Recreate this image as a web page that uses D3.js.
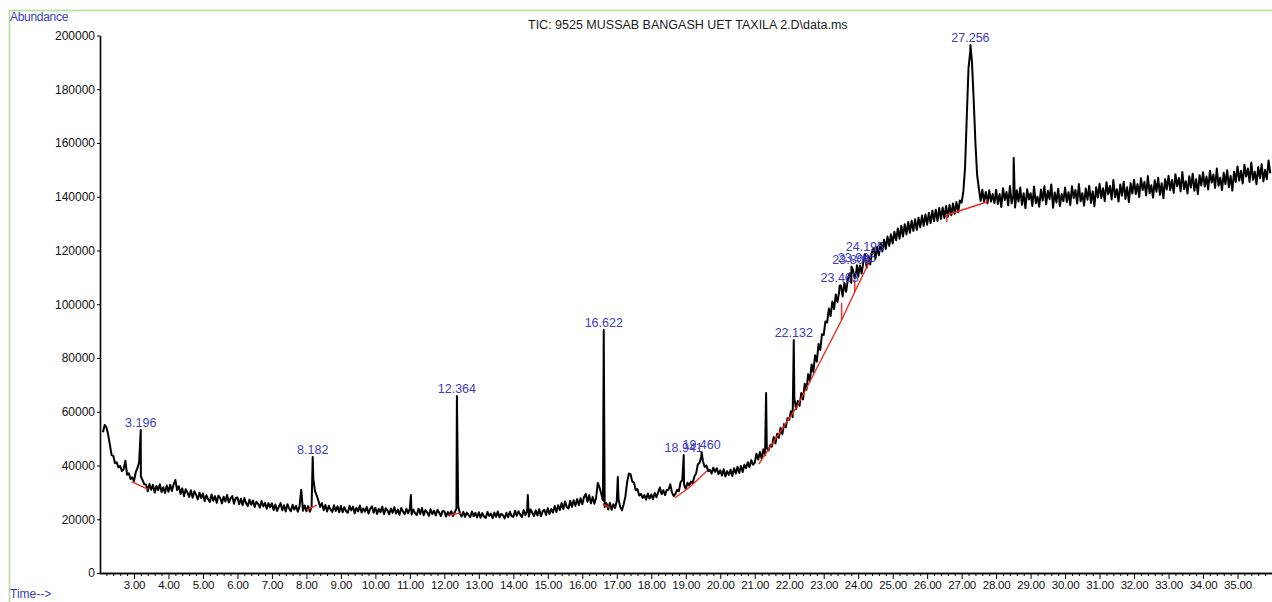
<!DOCTYPE html>
<html>
<head>
<meta charset="utf-8">
<script src="https://cdn.jsdelivr.net/npm/d3@7/dist/d3.min.js"></script>
<style>
  body { margin: 0; background: #ffffff; }
  text { font-family: "Liberation Sans", Arial, sans-serif; }
</style>
</head>
<body>
<svg id="chart"></svg>
<script>
/* ----------尺寸---------- */

var WIDTH = 1272,
    HEIGHT = 602;

/* ----------颜色---------- */

var traceColor = "#000000",
    baseColor = "#f02a1e",
    labelColor = "#3c3cbe",
    frameColor = "#b2dc98";

/* ----------数据 (abundance in thousands, one row per minute, 0.05 min per scan) ---------- */

var ticRows = [
  /* 2 */ [52.4, 55.1, 54.2, 51.6, 47.8, 43.9, 43.6, 40.8, 41.2, 39.3, 39.8, 37.9, 38.6, 41.8, 36.6, 37.1, 35.0, 35.6],
  /* 3 */ [34.2, 37.4, 39.0, 41.3, 36.0, 34.5, 33.0, 32.9, 30.4, 33.1, 31.0, 32.8, 29.9, 32.4, 30.8, 33.0, 30.1, 31.9, 29.8, 32.6],
  /* 4 */ [30.2, 32.8, 30.5, 33.0, 34.6, 30.9, 32.3, 29.4, 31.5, 28.6, 31.2, 29.9, 28.3, 30.8, 28.0, 30.4, 29.1, 27.4, 29.9, 27.9],
  /* 5 */ [29.6, 26.8, 28.9, 27.5, 26.4, 29.2, 26.9, 28.6, 26.1, 28.8, 27.9, 25.9, 28.4, 26.6, 29.0, 26.2, 27.8, 28.6, 25.8, 27.9],
  /* 6 */ [28.1, 25.6, 27.6, 25.2, 27.9, 26.0, 24.9, 27.3, 25.4, 27.0, 24.6, 26.5, 25.7, 24.3, 26.8, 24.8, 26.1, 23.9, 26.0, 24.4],
  /* 7 */ [25.9, 23.4, 25.5, 23.1, 24.6, 26.0, 23.3, 25.2, 22.9, 25.6, 24.0, 23.0, 25.4, 23.6, 25.0, 22.8, 24.7, 31.0, 23.2, 25.1],
  /* 8 */ [23.0, 24.9, 22.8, 24.6, 35.0, 30.5, 28.8, 26.8, 24.6, 26.0, 23.4, 25.3, 22.9, 25.0, 23.6, 22.7, 25.2, 23.1, 24.8, 22.6],
  /* 9 */ [24.9, 22.6, 24.5, 23.0, 22.4, 25.0, 23.3, 24.7, 22.2, 24.3, 22.9, 25.1, 22.5, 24.0, 22.8, 24.6, 22.1, 23.9, 24.8, 22.4],
  /* 10 */ [24.3, 22.0, 23.8, 22.6, 24.7, 21.9, 24.1, 23.3, 21.8, 24.0, 22.4, 24.5, 22.1, 23.6, 21.7, 24.2, 22.9, 21.9, 23.9, 22.2],
  /* 11 */ [24.0, 21.8, 23.6, 22.3, 21.6, 23.9, 22.0, 24.2, 21.5, 23.4, 22.6, 21.3, 23.7, 21.9, 23.2, 21.4, 23.5, 22.5, 21.2, 23.1],
  /* 12 */ [22.9, 21.0, 22.7, 21.4, 23.0, 21.2, 22.6, 23.9, 25.0, 22.2, 21.0, 22.8, 20.9, 22.5, 21.6, 20.8, 22.9, 21.1, 22.4, 20.7],
  /* 13 */ [22.6, 20.6, 22.3, 21.0, 20.5, 22.7, 21.3, 22.1, 20.4, 22.5, 20.9, 22.9, 20.7, 22.0, 21.5, 20.3, 22.4, 20.8, 22.8, 21.2],
  /* 14 */ [20.9, 23.2, 21.3, 23.0, 21.7, 20.8, 23.4, 21.5, 23.1, 21.0, 23.6, 22.4, 21.2, 23.3, 21.4, 23.7, 21.1, 22.9, 23.5, 21.6],
  /* 15 */ [24.1, 22.0, 23.8, 22.5, 24.9, 22.7, 25.2, 23.4, 26.0, 23.8, 26.6, 24.5, 24.0, 26.9, 24.6, 27.1, 25.0, 27.5, 25.3, 27.8],
  /* 16 */ [25.6, 28.3, 29.4, 26.5, 28.9, 25.9, 28.3, 25.8, 28.0, 33.5, 31.8, 29.5, 27.0, 24.6, 26.0, 23.6, 26.1, 23.5, 25.6, 24.2],
  /* 17 */ [26.8, 27.5, 24.6, 23.3, 25.6, 28.5, 33.8, 37.0, 36.8, 34.0, 33.6, 30.8, 31.2, 28.8, 29.4, 27.9, 29.0, 27.3, 29.6, 27.7],
  /* 18 */ [29.2, 27.5, 29.8, 28.2, 30.0, 31.8, 29.3, 30.8, 29.0, 30.9, 31.0, 33.0, 30.0, 28.6, 29.4, 30.9, 30.4, 33.8, 34.5, 33.0],
  /* 19 */ [31.2, 33.6, 32.6, 34.0, 33.4, 35.9, 37.0, 40.4, 41.0, 43.2, 41.5, 39.5, 40.0, 37.9, 38.4, 37.0, 39.2, 37.6, 39.0, 36.8],
  /* 20 */ [38.2, 36.3, 38.6, 35.9, 37.9, 36.5, 38.4, 36.1, 39.0, 37.0, 39.5, 37.2, 39.8, 37.6, 40.3, 39.0, 41.2, 39.4, 42.0, 40.3],
  /* 21 */ [41.0, 44.4, 42.2, 45.0, 42.6, 46.0, 43.8, 46.5, 45.6, 47.6, 47.0, 50.6, 48.2, 51.8, 50.3, 54.0, 51.6, 55.4, 54.2, 57.6],
  /* 22 */ [57.0, 60.2, 58.0, 65.0, 61.0, 64.0, 62.2, 67.0, 64.6, 70.4, 68.2, 74.0, 71.4, 77.6, 74.8, 81.0, 78.6, 85.2, 83.0, 88.8],
  /* 23 */ [88.6, 93.6, 93.2, 98.4, 95.6, 101.0, 98.2, 103.6, 100.8, 104.8, 107.0, 102.9, 108.0, 104.6, 109.2, 111.5, 108.0, 112.8, 109.6, 112.6],
  /* 24 */ [110.2, 114.4, 111.4, 115.8, 117.6, 113.6, 117.9, 114.8, 119.4, 121.0, 116.9, 121.4, 118.2, 122.8, 119.6, 124.0, 120.6, 125.2, 121.7, 126.0],
  /* 25 */ [122.6, 127.0, 123.8, 128.2, 124.4, 129.2, 125.2, 129.8, 126.0, 130.6, 126.6, 131.1, 127.3, 131.6, 127.7, 132.2, 128.6, 133.0, 129.2, 133.4],
  /* 26 */ [129.6, 134.0, 130.2, 134.8, 130.9, 135.2, 131.0, 135.8, 131.7, 136.0, 132.1, 136.6, 132.5, 137.0, 133.1, 137.5, 133.7, 138.0, 134.3, 138.6],
  /* 27 */ [137.8, 142.0, 151.0, 170.0, 188.0, 194.0, 190.0, 176.0, 160.0, 148.0, 143.0, 138.5, 142.6, 138.0, 141.8, 137.5, 142.4, 138.2, 141.0, 137.6],
  /* 28 */ [142.6, 137.3, 141.0, 136.2, 143.2, 138.8, 141.8, 136.8, 144.0, 137.6, 140.6, 136.0, 142.4, 138.2, 143.4, 137.0, 141.3, 135.8, 142.8, 139.0],
  /* 29 */ [141.3, 136.6, 143.8, 137.6, 140.0, 136.3, 142.7, 138.6, 143.9, 137.2, 142.2, 139.1, 144.6, 135.9, 141.6, 137.9, 143.0, 136.5, 141.0, 138.3],
  /* 30 */ [143.4, 138.0, 141.7, 136.9, 143.9, 139.5, 142.5, 137.5, 144.7, 138.3, 141.3, 136.7, 143.1, 138.9, 144.1, 137.7, 142.0, 136.5, 143.5, 139.7],
  /* 31 */ [144.8, 139.5, 143.2, 138.4, 145.4, 141.0, 144.0, 139.0, 146.2, 139.8, 142.8, 138.2, 144.6, 140.4, 145.6, 139.2, 143.5, 138.0, 145.0, 141.2],
  /* 32 */ [146.3, 141.0, 144.7, 139.9, 146.9, 142.5, 145.5, 140.5, 147.7, 141.3, 144.3, 139.7, 146.1, 141.9, 147.1, 140.7, 145.0, 139.5, 146.5, 142.7],
  /* 33 */ [147.8, 142.5, 146.2, 141.4, 148.4, 144.0, 147.0, 142.0, 149.2, 142.8, 145.8, 141.2, 147.6, 143.4, 148.6, 142.2, 146.5, 141.0, 148.0, 144.2],
  /* 34 */ [149.1, 143.8, 147.5, 142.7, 149.7, 145.3, 148.3, 143.3, 150.5, 144.1, 147.1, 142.5, 148.9, 144.7, 149.9, 143.5, 147.8, 142.3, 149.3, 145.5],
  /* 35 */ [151.3, 146.0, 149.7, 144.9, 151.9, 147.5, 150.5, 145.5, 152.7, 146.3, 149.3, 144.7, 151.1, 146.9, 152.1, 145.7, 150.0, 146.5, 153.5, 148.7]
];

/* ----------尖峰 (单个扫描的峰顶)---------- */

var spikeTimes  = [3.196, 8.182, 11.03, 12.364, 14.42, 16.622, 17.03, 18.941, 19.460, 21.33, 22.132, 23.463, 23.806, 23.965, 24.195, 27.256, 28.51];
var spikeValues = [53.2, 43.2, 29.0, 65.9, 29.0, 90.4, 35.7, 43.9, 45.0, 67.0, 86.7, 107.0, 114.0, 114.5, 118.7, 196.5, 154.4];

/* ----------峰标签---------- */

var peakLabels = ["3.196", "8.182", "12.364", "16.622", "18.941", "19.460", "22.132", "23.463", "23.806", "23.965", "24.195", "27.256"];

/* ----------积分基线 [t1, v1, t2, v2] (千)---------- */

var baselineSegs = [
  [2.93, 33.97, 3.41, 31.15],
  [8.01, 23.44, 8.30, 25.30],
  [12.13, 21.6, 12.48, 22.3],
  [16.59, 25.7, 16.80, 24.2],
  [18.68, 27.9, 19.12, 32.0],
  [19.12, 32.0, 19.61, 37.95],
  [21.12, 40.56, 22.22, 61.77],
  [22.22, 61.77, 23.52, 94.14],
  [23.52, 94.14, 23.52, 100.5],
  [23.52, 94.14, 23.90, 104.56],
  [23.90, 104.56, 23.90, 109.0],
  [23.90, 104.56, 24.28, 114.6],
  [24.28, 114.6, 24.28, 117.4],
  [26.57, 133.2, 27.73, 138.05],
  [26.57, 133.2, 26.57, 130.6],
  [27.73, 138.05, 27.73, 139.2]
];

/* ----------坐标轴刻度---------- */

var yTicks = [0, 20000, 40000, 60000, 80000, 100000, 120000, 140000, 160000, 180000, 200000];
var xMajorTicks = [3, 4, 5, 6, 7, 8, 9, 10, 11, 12, 13, 14, 15, 16, 17, 18, 19, 20, 21, 22, 23, 24, 25, 26, 27, 28, 29, 30, 31, 32, 33, 34, 35];

var titleText = "TIC: 9525 MUSSAB BANGASH UET TAXILA 2.D\\data.ms";

/* ----------组合数据---------- */

var trace = [];
ticRows.forEach(function(row, r) {
    var minute = r + 2;
    var offset = (20 - row.length) * 0.05;
    row.forEach(function(v, j) {
        trace.push({t: minute + offset + j * 0.05, v: v * 1000});
    });
});
spikeTimes.forEach(function(t, i) {
    trace.push({t: t, v: spikeValues[i] * 1000});
});
trace.sort(function(a, b) { return a.t - b.t; });

var minorTicks = [];
for (var k = 11; k < 180; k++) {
    if (k % 5 != 0) minorTicks.push(k / 5);
}

/* ----------比例尺---------- */

var x = d3.scaleLinear().domain([2, 36]).range([99.5, 1272]);
var y = d3.scaleLinear().domain([0, 200000]).range([573, 35.5]);

var svg = d3.select("#chart")
    .attr("width", WIDTH)
    .attr("height", HEIGHT);

/* ----------外框---------- */

svg.append("rect")
    .attr("x", 9.5)
    .attr("y", 10.5)
    .attr("width", 1400)
    .attr("height", 800)
    .attr("fill", "none")
    .attr("stroke", frameColor)
    .attr("stroke-width", 1.6);

/* ----------标题---------- */

svg.append("text")
    .attr("x", 528)
    .attr("y", 29)
    .attr("font-size", "12.5px")
    .attr("fill", "#1a1a1a")
    .text(titleText);

svg.append("text")
    .attr("x", 10)
    .attr("y", 21)
    .attr("font-size", "12px")
    .attr("fill", labelColor)
    .attr("letter-spacing", "-0.3px")
    .text("Abundance");

svg.append("text")
    .attr("x", 10)
    .attr("y", 598)
    .attr("font-size", "12px")
    .attr("fill", labelColor)
    .text("Time-->");

/* ----------坐标轴---------- */

var yAxis = svg.append("g")
    .attr("transform", "translate(100,0)")
    .call(d3.axisLeft(y).tickValues(yTicks).tickSize(3).tickSizeOuter(0).tickPadding(2).tickFormat(d3.format("d")));

var xMinor = svg.append("g")
    .attr("transform", "translate(0,573)")
    .call(d3.axisBottom(x).tickValues(minorTicks).tickSize(3).tickSizeOuter(0).tickFormat(""));

var xMajor = svg.append("g")
    .attr("transform", "translate(0,573)")
    .call(d3.axisBottom(x).tickValues(xMajorTicks).tickSize(6).tickSizeOuter(0).tickPadding(2).tickFormat(d3.format(".2f")));

[yAxis, xMinor, xMajor].forEach(function(g) {
    g.select(".domain").attr("stroke", "#000").attr("stroke-width", 1.6);
    g.selectAll(".tick line").attr("stroke", "#000").attr("stroke-width", 1);
    g.selectAll(".tick text")
        .attr("fill", "#111")
        .style("font-family", "\"Liberation Sans\", Arial, sans-serif");
});
yAxis.selectAll(".tick text").style("font-size", "12px");
xMajor.selectAll(".tick text").style("font-size", "11.5px").attr("letter-spacing", "-0.2px");

/* ----------TIC 曲线---------- */

var line = d3.line()
    .x(function(d) { return x(d.t); })
    .y(function(d) { return y(d.v); });

svg.append("path")
    .datum(trace)
    .attr("fill", "none")
    .attr("stroke", traceColor)
    .attr("stroke-width", 2)
    .attr("stroke-linejoin", "round")
    .attr("d", line);

/* ----------基线---------- */

svg.append("g")
    .selectAll("line")
    .data(baselineSegs)
    .enter().append("line")
    .attr("x1", function(d) { return x(d[0]); })
    .attr("y1", function(d) { return y(d[1] * 1000); })
    .attr("x2", function(d) { return x(d[2]); })
    .attr("y2", function(d) { return y(d[3] * 1000); })
    .attr("stroke", baseColor)
    .attr("stroke-width", 1.4);

/* ----------峰标签---------- */

svg.append("g")
    .selectAll("text")
    .data(peakLabels)
    .enter().append("text")
    .attr("x", function(d) { return x(+d); })
    .attr("y", function(d) {
        var i = spikeTimes.indexOf(+d);
        return y(spikeValues[i] * 1000) - 3;
    })
    .attr("text-anchor", "middle")
    .attr("font-size", "12.5px")
    .attr("fill", labelColor)
    .text(function(d) { return d; });
</script>
</body>
</html>
